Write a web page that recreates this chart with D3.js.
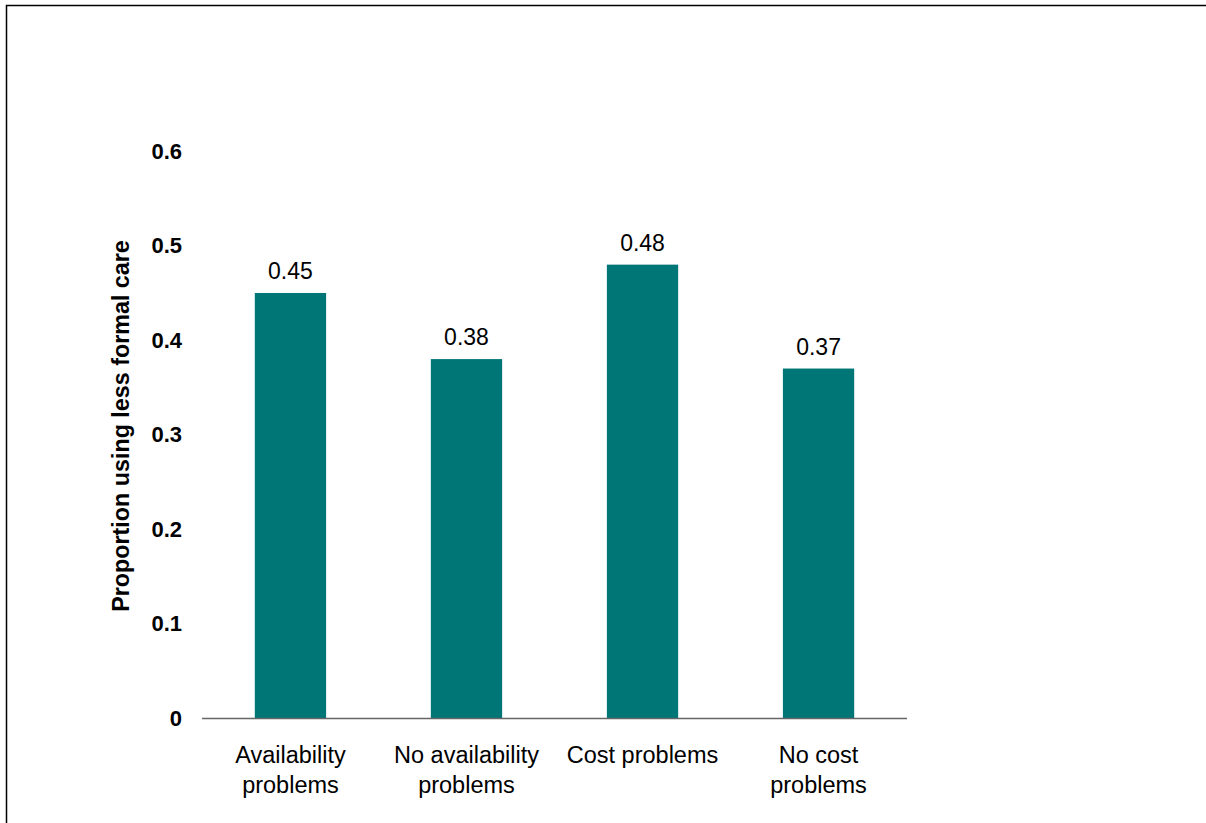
<!DOCTYPE html>
<html>
<head>
<meta charset="utf-8">
<script src="https://cdn.jsdelivr.net/npm/d3@7"></script>
<style>
  html, body { margin: 0; padding: 0; background: #fff; }
  svg { display: block; font-family: "Liberation Sans", Arial, sans-serif; }
</style>
</head>
<body>
<svg id="chart" width="1206" height="823"></svg>
<script>
// Proportion of people using less formal care, by reported access problem
const categories = ["Availability problems", "No availability problems", "Cost problems", "No cost problems"];
const categoryLines = [["Availability", "problems"], ["No availability", "problems"], ["Cost problems"], ["No cost", "problems"]];
const proportions = [0.45, 0.38, 0.48, 0.37];
const yTicks = [0, 0.1, 0.2, 0.3, 0.4, 0.5, 0.6];
const yTitle = "Proportion using less formal care";

const svg = d3.select("#chart");
const W = 1206, H = 823;
const plot = { left: 202, right: 907, top: 151.3, bottom: 718 };

// outer frame (top and left edges)
svg.append("path")
  .attr("d", `M6.5,${H} V5.5 H${W}`)
  .attr("fill", "none")
  .attr("stroke", "#000")
  .attr("stroke-width", 1.5);

const x = d3.scaleBand()
  .domain(categories)
  .range([plot.left, plot.right])
  .paddingInner(0.595)
  .paddingOuter(0.3);

const y = d3.scaleLinear()
  .domain([0, 0.6])
  .range([plot.bottom, plot.top]);

// bars
svg.append("g")
  .selectAll("rect")
  .data(categories)
  .join("rect")
  .attr("x", d => x(d))
  .attr("width", x.bandwidth())
  .attr("y", (d, i) => y(proportions[i]))
  .attr("height", (d, i) => y(0) - y(proportions[i]))
  .attr("fill", "#007676");

// value labels
svg.append("g")
  .selectAll("text")
  .data(categories)
  .join("text")
  .attr("x", d => x(d) + x.bandwidth() / 2)
  .attr("y", (d, i) => y(proportions[i]) - 14)
  .attr("text-anchor", "middle")
  .attr("font-size", 23)
  .attr("fill", "#000")
  .text((d, i) => proportions[i].toFixed(2));

// y axis: labels only
const yAxis = svg.append("g")
  .attr("transform", `translate(${plot.left},0)`)
  .call(d3.axisLeft(y).tickValues(yTicks).tickSize(0).tickPadding(20)
    .tickFormat(d => d === 0 ? "0" : d3.format(".1f")(d)));
yAxis.select(".domain").remove();
yAxis.selectAll("text")
  .attr("font-size", 22)
  .attr("font-weight", "bold")
  .attr("font-family", "Liberation Sans, Arial, sans-serif")
  .attr("fill", "#000");

// x axis baseline and category labels
const xAxis = svg.append("g")
  .attr("transform", `translate(0,${plot.bottom})`)
  .call(d3.axisBottom(x).tickSize(0).tickFormat(""));
xAxis.select(".domain")
  .attr("d", `M${plot.left},0.5H${plot.right}`)
  .attr("stroke", "#666")
  .attr("stroke-width", 1.3);
xAxis.selectAll(".tick text").remove();
xAxis.selectAll(".tick")
  .append("text")
  .attr("text-anchor", "middle")
  .attr("font-size", 23.5)
  .attr("font-family", "Liberation Sans, Arial, sans-serif")
  .attr("fill", "#000")
  .selectAll("tspan")
  .data((d, i) => categoryLines[i])
  .join("tspan")
  .attr("x", 0)
  .attr("y", (d, j) => 45 + j * 30)
  .text(d => d);

// y axis title
svg.append("text")
  .attr("transform", `translate(129,426) rotate(-90)`)
  .attr("text-anchor", "middle")
  .attr("font-size", 23.3)
  .attr("font-weight", "bold")
  .attr("fill", "#000")
  .text(yTitle);
</script>
</body>
</html>
